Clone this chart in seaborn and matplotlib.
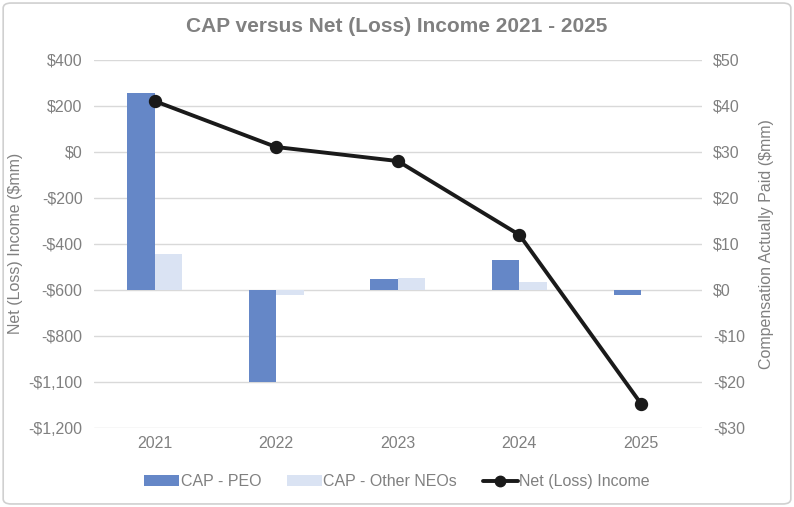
import pandas as pd
import numpy as np
import matplotlib
matplotlib.use("Agg")
import matplotlib.pyplot as plt
import seaborn as sns
from matplotlib.patches import FancyBboxPatch, Patch
from matplotlib.lines import Line2D

# Data
years = ["2021", "2022", "2023", "2024", "2025"]
cap_peo = [42.7, -20.0, 2.4, 6.6, -1.1]          # $mm, right axis
cap_other_neos = [7.9, -1.2, 2.6, 1.7, -0.1]     # $mm, right axis
net_income = [221, 21, -40, -361, -1095]         # $mm, left axis

left_ticks = [400, 200, 0, -200, -400, -600, -800, -1000, -1200]
left_tick_labels = ["$400", "$200", "$0", "-$200", "-$400", "-$600", "-$800", "-$1,100", "-$1,200"]
right_ticks = [50, 40, 30, 20, 10, 0, -10, -20, -30]
right_tick_labels = ["$50", "$40", "$30", "$20", "$10", "$0", "-$10", "-$20", "-$30"]

peo_color = "#6587C7"
other_color = "#DAE3F3"
text_gray = "#808080"
grid_gray = "#D9D9D9"

sns.set_theme(style="white")
plt.rcParams["font.family"] = ["Liberation Sans", "DejaVu Sans"]

# long table for seaborn
bars = pd.DataFrame({
    "Year": years * 2,
    "CAP": cap_peo + cap_other_neos,
    "Series": ["CAP - PEO"] * len(years) + ["CAP - Other NEOs"] * len(years),
})

fig = plt.figure(figsize=(7.94, 5.07), dpi=100)
ax = fig.add_axes([0.118, 0.156, 0.766, 0.726])
ax2 = ax.twinx()

# bars on the right axis
sns.barplot(data=bars, x="Year", y="CAP", hue="Series", order=years,
            palette=[peo_color, other_color], saturation=1, width=0.45,
            linewidth=0, ax=ax2, legend=False)
ax2.set_ylim(-30, 50)
ax2.set_yticks(right_ticks)
ax2.set_yticklabels(right_tick_labels)
ax2.set_ylabel("Compensation Actually Paid ($mm)", color=text_gray, fontsize=11.5, labelpad=10)
ax2.yaxis.grid(True, color=grid_gray, linewidth=1)
ax2.set_axisbelow(True)

# line on the left axis, drawn above the bars
sns.pointplot(x=years, y=net_income, order=years, color="#1A1A1A",
              markersize=7.5, linewidth=2.8, ax=ax)
ax.set_ylim(-1200, 400)
ax.set_yticks(left_ticks)
ax.set_yticklabels(left_tick_labels)
ax.set_ylabel("Net (Loss) Income ($mm)", color=text_gray, fontsize=11.5, labelpad=4)
ax.set_xlabel("")
ax2.set_xlabel("")
ax.set_xlim(-0.5, 4.5)
ax.set_zorder(ax2.get_zorder() + 1)
ax.patch.set_visible(False)

for a in (ax, ax2):
    for s in a.spines.values():
        s.set_visible(False)
    a.tick_params(axis="both", length=0, labelsize=11.5, labelcolor=text_gray, pad=8)
ax.tick_params(axis="x", pad=6)

fig.suptitle("CAP versus Net (Loss) Income 2021 - 2025", x=0.5, y=0.967,
             fontsize=15, fontweight="bold", color=text_gray)

handles = [
    Patch(facecolor=peo_color, edgecolor="none", label="CAP - PEO"),
    Patch(facecolor=other_color, edgecolor="none", label="CAP - Other NEOs"),
    Line2D([0], [0], color="#1A1A1A", linewidth=2.8, marker="o", markersize=7.5,
           label="Net (Loss) Income"),
]
leg = fig.legend(handles=handles, loc="center", bbox_to_anchor=(0.5, 0.05), ncol=3,
                 frameon=False, fontsize=11.5, handlelength=2.2, handleheight=0.6,
                 handletextpad=0.1, columnspacing=1.6)
for t in leg.get_texts():
    t.set_color(text_gray)

# light border around the whole chart
fig.patches.append(FancyBboxPatch((0.004, 0.006), 0.992, 0.988,
                                  boxstyle="round,pad=0,rounding_size=0.01",
                                  transform=fig.transFigure, fill=False,
                                  edgecolor="#D0D0D0", linewidth=1.2))

fig.savefig("out.png", dpi=100)
